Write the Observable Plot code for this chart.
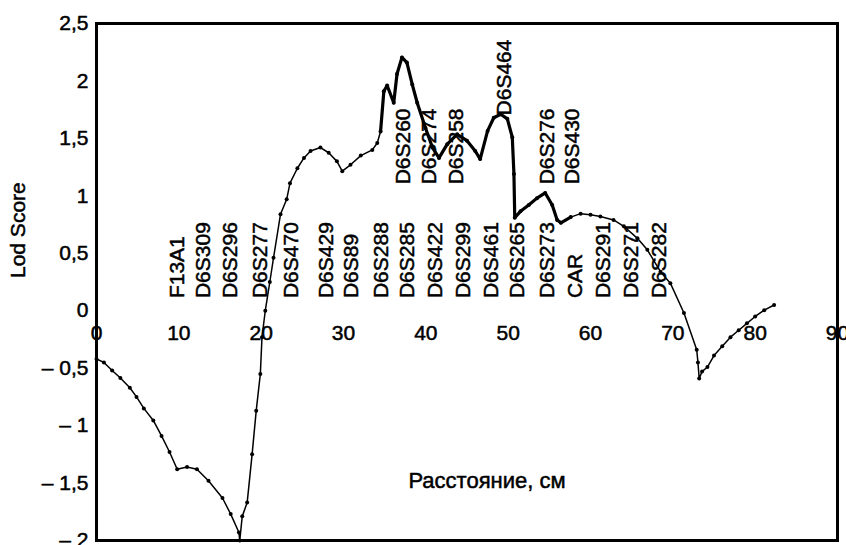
<!DOCTYPE html>
<html>
<head>
<meta charset="utf-8">
<script src="https://cdn.jsdelivr.net/npm/d3@7"></script>
<script src="https://cdn.jsdelivr.net/npm/@observablehq/plot@0.6"></script>
<style>
  html, body { margin: 0; padding: 0; background: #fff; }
  #chart svg { display: block; }
</style>
</head>
<body>
<div id="chart"></div>
<script>
// Distance (cM) and LOD score along the curve
const dist = [0, 0.9, 1.9, 2.9, 4.05, 4.86, 5.75, 6.9, 7.9, 8.87, 9.8, 11.0, 12.2, 13.6, 15.3, 16.3, 17.3, 17.4, 17.7, 18.3, 18.9, 19.4, 19.9, 20.1, 20.5, 21.05, 21.5, 22.35, 23.1, 23.5, 24.4, 25.2, 26.0, 27.2, 28.2, 29.2, 29.85, 30.85, 32.1, 33.5, 34.1, 34.5, 34.9, 35.3, 36.1, 36.5, 37.1, 37.7, 38.35, 38.95, 39.96, 40.8, 41.6, 42.6, 43.8, 45.0, 46.0, 46.6, 47.5, 48.25, 49.1, 49.9, 50.5, 50.7, 50.8, 51.5, 52.5, 53.5, 54.5, 55.35, 55.95, 56.4, 57.6, 58.8, 60.0, 61.2, 62.8, 64.05, 65.7, 66.9, 68.5, 69.7, 71.35, 72.9, 73.05, 73.2, 73.55, 74.2, 75.0, 76.0, 77.0, 78.0, 79.0, 80.0, 81.1, 82.3];
const lod = [-0.42, -0.45, -0.52, -0.585, -0.67, -0.75, -0.85, -0.955, -1.09, -1.23, -1.38, -1.36, -1.38, -1.48, -1.63, -1.77, -1.93, -2.0, -1.79, -1.67, -1.25, -0.87, -0.55, -0.23, 0.0, 0.25, 0.46, 0.84, 0.97, 1.11, 1.24, 1.33, 1.39, 1.42, 1.375, 1.30, 1.215, 1.27, 1.35, 1.40, 1.46, 1.56, 1.91, 1.96, 1.81, 2.06, 2.205, 2.16, 1.97, 1.81, 1.59, 1.42, 1.33, 1.45, 1.535, 1.48, 1.39, 1.32, 1.565, 1.68, 1.71, 1.67, 1.51, 1.19, 0.81, 0.865, 0.92, 0.98, 1.025, 0.92, 0.79, 0.765, 0.815, 0.845, 0.835, 0.82, 0.79, 0.735, 0.63, 0.53, 0.34, 0.24, -0.02, -0.34, -0.45, -0.59, -0.53, -0.49, -0.39, -0.31, -0.23, -0.17, -0.11, -0.05, 0.005, 0.05];

// Genetic markers: name, map position (cM), label row
const markerNames = ["F13A1", "D6S309", "D6S296", "D6S277", "D6S470", "D6S429", "D6S89", "D6S288", "D6S285", "D6S422", "D6S299", "D6S461", "D6S265", "D6S273", "CAR", "D6S291", "D6S271", "D6S282", "D6S260", "D6S274", "D6S258", "D6S464", "D6S276", "D6S430"];
const markerPos = [9.8, 13.0, 16.3, 19.9, 23.7, 27.9, 30.9, 34.6, 37.8, 41.1, 44.5, 47.9, 51.1, 54.8, 58.1, 61.5, 64.9, 68.3, 37.2, 40.4, 43.7, 49.5, 54.7, 57.8];
const markerRow = [0, 0, 0, 0, 0, 0, 0, 0, 0, 0, 0, 0, 0, 0, 0, 0, 0, 0, 1, 1, 1, 2, 1, 1];

const xTicks = [0, 10, 20, 30, 40, 50, 60, 70, 80, 90];
const yTicks = [2.5, 2, 1.5, 1, 0.5, 0, -0.5, -1, -1.5, -2];
const xTitle = "Расстояние, см";
const yTitle = "Lod Score";

const curve = dist.map((d, i) => ({dist: d, lod: lod[i]}));
const rowBase = [0.11, 1.10, 1.70];
const markers = markerNames.map((n, i) => ({name: n, pos: markerPos[i], y: rowBase[markerRow[i]]}));

const fmt = v => {
  const s = Math.abs(v).toString().replace(".", ",");
  return v < 0 ? "\u2013 " + s : s;
};

const font = "'Liberation Sans', Arial, sans-serif";
const ink = {fill: "#000", stroke: "#000", strokeWidth: 0.5};

const chart = Plot.plot({
  width: 846,
  height: 545,
  marginLeft: 96,
  marginRight: 9,
  marginTop: 23,
  marginBottom: 5,
  style: {fontFamily: font, fontSize: "21px", background: "#fff", color: "#000"},
  x: {domain: [0, 90], axis: null},
  y: {domain: [-2, 2.5], axis: null},
  marks: [
    Plot.text(yTicks, {frameAnchor: "left", y: d => d, dx: -8, textAnchor: "end", text: fmt, fontSize: 21, ...ink}),
    Plot.text(xTicks, {x: d => d, y: 0, dy: 23, text: d => String(d), fontSize: 21, ...ink}),
    Plot.text(markers, {x: "pos", y: "y", text: "name", rotate: -90, textAnchor: "start", fontSize: 21, ...ink}),
    Plot.line(curve, {x: "dist", y: "lod", stroke: "#000", strokeWidth: 1.5}),
    Plot.line(curve.filter(d => d.dist >= 34.5 && d.dist <= 57.6), {x: "dist", y: "lod", stroke: "#000", strokeWidth: 3.2}),
    Plot.dot(curve, {x: "dist", y: "lod", r: 2, fill: "#000"}),
    Plot.text([xTitle], {frameAnchor: "bottom", dx: 20, dy: -53, fontSize: 22, ...ink}),
    Plot.text([yTitle], {frameAnchor: "left", dx: -78, dy: -4, rotate: -90, fontSize: 21, ...ink}),
    Plot.frame({stroke: "#000", strokeWidth: 3})
  ]
});

document.getElementById("chart").appendChild(chart);
</script>
</body>
</html>
